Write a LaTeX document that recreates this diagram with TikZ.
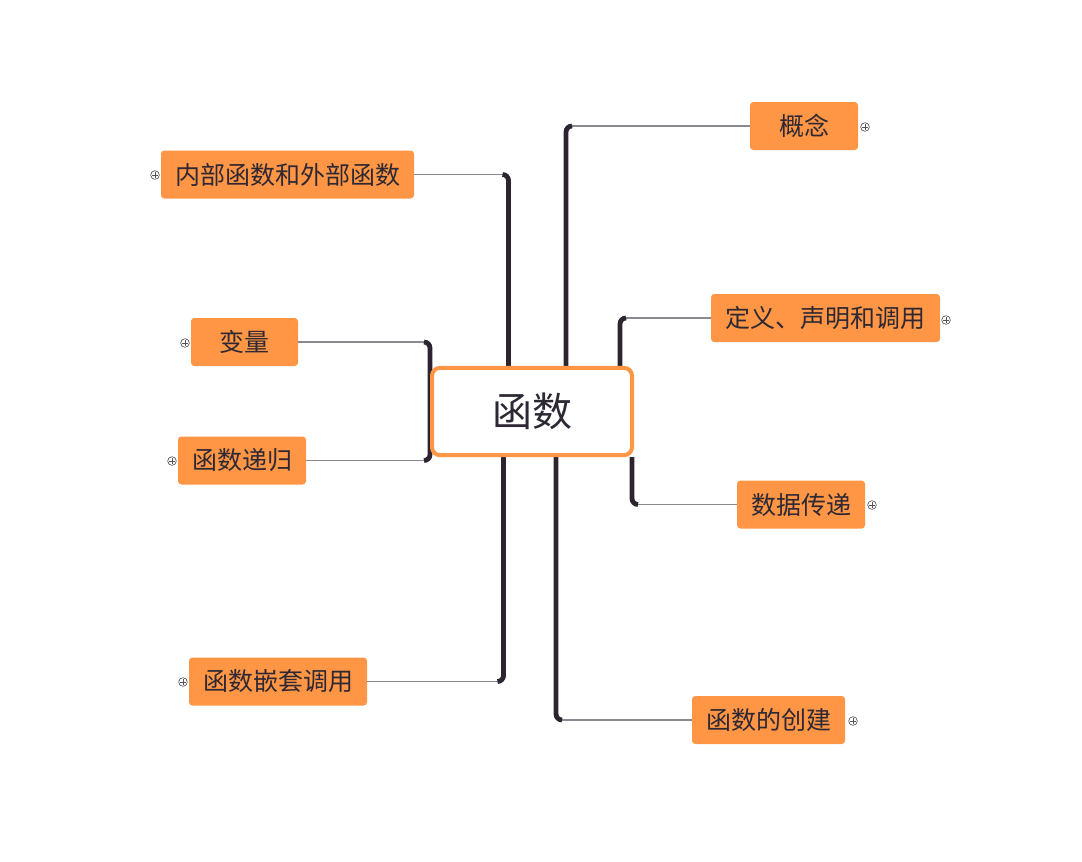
\documentclass[tikz,border=0pt]{standalone}
\usepackage{fontspec}
\newfontfamily\cjk{Noto Sans CJK SC}
\usetikzlibrary{calc}
\definecolor{orng}{HTML}{FF9645}
\definecolor{trunkc}{HTML}{2E2431}
\definecolor{branchc}{HTML}{8A8890}
\definecolor{txtc}{HTML}{2D2833}
\tikzset{
  leaf/.style={fill=orng, rounded corners=2.5pt, text=txtc, font=\cjk\fontsize{18.75pt}{20pt}\selectfont, inner sep=0pt, minimum height=36pt, anchor=center},
  rootbox/.style={draw=orng, line width=3pt, fill=white, rounded corners=6pt, text=txtc, font=\cjk\fontsize{30pt}{32pt}\selectfont, minimum width=150pt, minimum height=65.5pt, inner sep=0pt},
  trunk/.style={draw=trunkc, line width=3.6pt, rounded corners=4.5pt},
  branch/.style={draw=branchc, line width=1.1pt},
  plusmark/.style={circle, draw=txtc!80, line width=0.5pt, minimum size=6.5pt, inner sep=0pt,
    path picture={\draw[txtc!80, line width=0.5pt] ([xshift=-2pt]path picture bounding box.center) -- ([xshift=2pt]path picture bounding box.center) ([yshift=-2pt]path picture bounding box.center) -- ([yshift=2pt]path picture bounding box.center);}}
}
\begin{document}
\begin{tikzpicture}[x=0.75pt, y=-0.75pt]
\useasboundingbox (0,0) rectangle (1082,861);
% leaves
\node[leaf, minimum width=81pt] (c1) at (804,126) {概念};
\node[leaf, minimum width=171.75pt] (c2) at (825.5,318) {定义、声明和调用};
\node[leaf, minimum width=96pt] (c3) at (801,504.5) {数据传递};
\node[leaf, minimum width=114.75pt] (c4) at (768.5,720) {函数的创建};
\node[leaf, minimum width=189.75pt] (l1) at (287.5,174.5) {内部函数和外部函数};
\node[leaf, minimum width=80.25pt] (l2) at (244.5,342) {变量};
\node[leaf, minimum width=96pt] (l3) at (242,460.5) {函数递归};
\node[leaf, minimum width=133.5pt] (l4) at (278,681.5) {函数嵌套调用};
% plus icons
\node[plusmark] (p1) at (865,127) {};
\node[plusmark] (p2) at (946,320) {};
\node[plusmark] (p3) at (872,505) {};
\node[plusmark] (p4) at (853,721) {};
\node[plusmark] (q1) at (155,175) {};
\node[plusmark] (q2) at (185,343) {};
\node[plusmark] (q3) at (172,461) {};
\node[plusmark] (q4) at (183,682) {};
% trunk x positions
\coordinate (x1) at (566,0);
\coordinate (x2) at (620,0);
\coordinate (x3) at (632,0);
\coordinate (x4) at (556,0);
\coordinate (y1) at (508.5,0);
\coordinate (y23) at (430,0);
\coordinate (y4) at (503.5,0);
\coordinate (rt) at (0,366);
\coordinate (rb) at (0,457);
\coordinate (rm) at (0,411);
% right branches
\draw[branch] ($(c1.west -| x1)+(4,0)$) -- (c1.west);
\draw[trunk] (x1 |- rt) |- ($(c1.west -| x1)+(6,0)$);
\draw[branch] ($(c2.west -| x2)+(4,0)$) -- (c2.west);
\draw[trunk] (x2 |- rt) |- ($(c2.west -| x2)+(6,0)$);
\draw[branch] ($(c3.west -| x3)+(4,0)$) -- (c3.west);
\draw[trunk] (x3 |- rb) |- ($(c3.west -| x3)+(6,0)$);
\draw[branch] ($(c4.west -| x4)+(4,0)$) -- (c4.west);
\draw[trunk] (x4 |- rb) |- ($(c4.west -| x4)+(6,0)$);
% left branches
\draw[branch] ($(l1.east -| y1)+(-4,0)$) -- (l1.east);
\draw[trunk] (y1 |- rt) |- ($(l1.east -| y1)+(-6,0)$);
\draw[branch] ($(l2.east -| y23)+(-4,0)$) -- (l2.east);
\draw[branch] ($(l3.east -| y23)+(-4,0)$) -- (l3.east);
\draw[trunk] (y23 |- rm) |- ($(l2.east -| y23)+(-6,0)$);
\draw[trunk] (y23 |- rm) |- ($(l3.east -| y23)+(-6,0)$);
\draw[branch] ($(l4.east -| y4)+(-4,0)$) -- (l4.east);
\draw[trunk] (y4 |- rb) |- ($(l4.east -| y4)+(-6,0)$);
% root
\node[rootbox] (root) at (532,411.5) {函数};
\end{tikzpicture}
\end{document}
